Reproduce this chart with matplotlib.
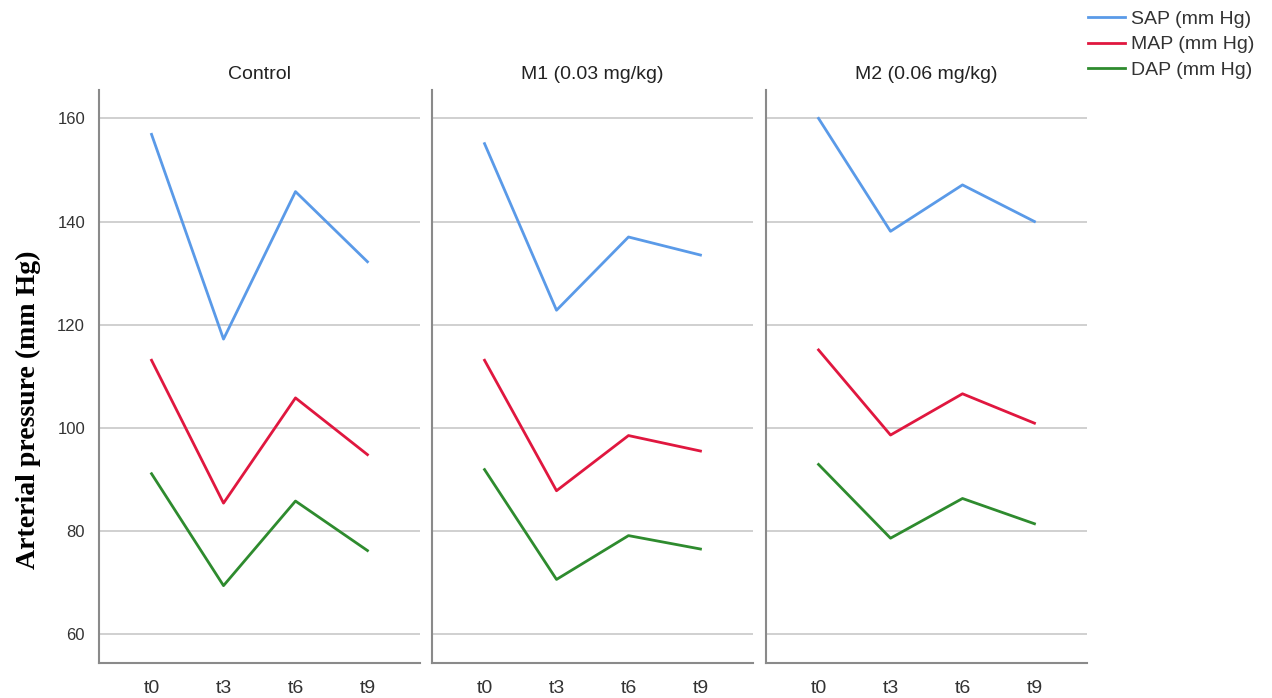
import matplotlib
matplotlib.use("Agg")
import matplotlib.pyplot as plt

# mean arterial pressures per group at each time point
time_points = ["t0", "t3", "t6", "t9"]
groups = ["Control", "M1 (0.03 mg/kg)", "M2 (0.06 mg/kg)"]
series_names = ["SAP (mm Hg)", "MAP (mm Hg)", "DAP (mm Hg)"]

control_sap = [156.9, 117.2, 145.8, 132.2]
control_map = [113.1, 85.4, 105.8, 94.8]
control_dap = [91.1, 69.4, 85.8, 76.2]

m1_sap = [155.1, 122.8, 137.0, 133.5]
m1_map = [113.1, 87.8, 98.5, 95.5]
m1_dap = [91.9, 70.6, 79.1, 76.5]

m2_sap = [160.0, 138.1, 147.1, 140.0]
m2_map = [115.1, 98.6, 106.6, 100.9]
m2_dap = [92.9, 78.6, 86.3, 81.4]

group_data = [
    [control_sap, control_map, control_dap],
    [m1_sap, m1_map, m1_dap],
    [m2_sap, m2_map, m2_dap],
]
colors = ["#5a9ae8", "#e0173f", "#2e8b2e"]
y_ticks = [60, 80, 100, 120, 140, 160]

plt.rcParams["font.family"] = ["Liberation Sans", "DejaVu Sans"]

W, H = 1272, 698
fig = plt.figure(figsize=(W / 100, H / 100), dpi=100)

panel_lefts = [99, 432, 766]
panel_width = 321
bottom_px, top_px = 663, 90

lines = []
for i, (name, data) in enumerate(zip(groups, group_data)):
    ax = fig.add_axes([
        panel_lefts[i] / W,
        1 - bottom_px / H,
        panel_width / W,
        (bottom_px - top_px) / H,
    ])
    x = range(len(time_points))
    for values, color, label in zip(data, colors, series_names):
        (ln,) = ax.plot(x, values, color=color, linewidth=2, label=label)
        if i == 0:
            lines.append(ln)
    ax.set_xlim(-0.73, 3.73)
    ax.set_ylim(54.4, 165.5)
    ax.set_yticks(y_ticks)
    ax.set_xticks(list(x))
    ax.set_xticklabels(time_points, fontsize=14, color="#333333")
    ax.tick_params(length=0, pad=12, axis="x")
    ax.tick_params(length=0, pad=10, axis="y", labelsize=12, labelcolor="#333333")
    if i > 0:
        ax.tick_params(labelleft=False)
    ax.grid(axis="y", color="#c8c8c8", linewidth=1.2)
    ax.set_axisbelow(True)
    for side in ["top", "right"]:
        ax.spines[side].set_visible(False)
    for side in ["left", "bottom"]:
        ax.spines[side].set_color("#8a8a8a")
        ax.spines[side].set_linewidth(1.5)
    ax.set_title(name, fontsize=14, color="#222222", pad=8)

fig.text(28 / W, 1 - 410 / H, "Arterial pressure (mm Hg)", rotation=90,
         ha="center", va="center", fontsize=20, fontweight="bold",
         family="Liberation Serif")

fig.legend(handles=lines, loc="upper left", bbox_to_anchor=(1088 / W, 1 - 10 / H),
           frameon=False, fontsize=14, handlelength=1.9, handletextpad=0.3,
           labelspacing=0.42, borderpad=0, borderaxespad=0,
           labelcolor="#333333")

fig.savefig("out.png", dpi=100)
